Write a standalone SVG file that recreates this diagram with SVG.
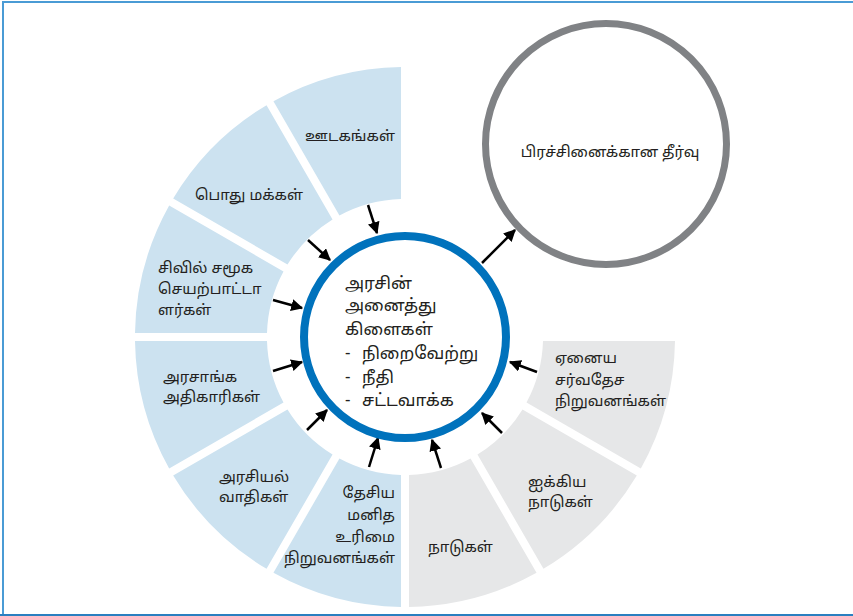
<svg xmlns="http://www.w3.org/2000/svg" width="853" height="616" viewBox="0 0 853 616">
<style>
.blue{fill:#cce2f0}
.grey{fill:#e6e7e8}
.t{font-family:"Noto Sans Tamil","Noto Serif Tamil","Latha","Nirmala UI","Noto Sans",sans-serif;font-size:15px;fill:#231f20}
.tc{font-family:"Noto Sans Tamil","Noto Serif Tamil","Latha","Nirmala UI","Noto Sans",sans-serif;font-size:17px;fill:#231f20}
.arr{stroke:#000;stroke-width:2.5;fill:none;marker-end:url(#ah)}
</style>
<defs>
<marker id="ah" viewBox="0 0 10 10" refX="9" refY="5" markerUnits="userSpaceOnUse" markerWidth="12" markerHeight="12" orient="auto">
<path d="M0,0 L10,5 L0,10 Z" fill="#000"/>
</marker>
</defs>
<rect width="853" height="616" fill="#fff"/>
<g id="frame" fill="none" stroke="#4a9bd5" stroke-width="2">
<path d="M3,616 V2 H853"/>
<path d="M0,615 H853" stroke="#2a7fc0"/>
</g>
<g id="n-media">
<path class="blue" d="M401,67 A270,270 0 0 0 273.46,101.17 L339.46,215.49 A138,138 0 0 1 401,199 Z"/>
<text class="t" x="305" y="141">ஊடகங்கள்</text>
</g>
<g id="n-public">
<path class="blue" d="M266.54,105.17 A270,270 0 0 0 173.17,198.54 L287.49,264.54 A138,138 0 0 1 332.54,219.49 Z"/>
<text class="t" x="195" y="200">பொது மக்கள்</text>
</g>
<g id="n-civil">
<path class="blue" d="M169.17,205.46 A270,270 0 0 0 135,333 L267,333 A138,138 0 0 1 283.49,271.46 Z"/>
<text class="t" x="158" y="273">சிவில் சமூக</text>
<text class="t" x="158" y="294">செயற்பாட்டா</text>
<text class="t" x="158" y="315">ளர்கள்</text>
</g>
<g id="n-officials">
<path class="blue" d="M135,341 A270,270 0 0 0 169.17,468.54 L283.49,402.54 A138,138 0 0 1 267,341 Z"/>
<text class="t" x="163" y="382">அரசாங்க</text>
<text class="t" x="163" y="402">அதிகாரிகள்</text>
</g>
<g id="n-politicians">
<path class="blue" d="M173.17,475.46 A270,270 0 0 0 266.54,568.83 L332.54,454.51 A138,138 0 0 1 287.49,409.46 Z"/>
<text class="t" x="219" y="482">அரசியல்</text>
<text class="t" x="219" y="502">வாதிகள்</text>
</g>
<g id="n-nhri">
<path class="blue" d="M273.46,572.83 A270,270 0 0 0 401,607 L401,475 A138,138 0 0 1 339.46,458.51 Z"/>
<text class="t" x="395" y="498" text-anchor="end">தேசிய</text>
<text class="t" x="395" y="520" text-anchor="end">மனித</text>
<text class="t" x="395" y="542" text-anchor="end">உரிமை</text>
<text class="t" x="395" y="563" text-anchor="end">நிறுவனங்கள்</text>
</g>
<g id="n-countries">
<path class="grey" d="M409,607 A270,270 0 0 0 536.54,572.83 L470.54,458.51 A138,138 0 0 1 409,475 Z"/>
<text class="t" x="428" y="552">நாடுகள்</text>
</g>
<g id="n-un">
<path class="grey" d="M543.46,568.83 A270,270 0 0 0 636.83,475.46 L522.51,409.46 A138,138 0 0 1 477.46,454.51 Z"/>
<text class="t" x="528" y="487">ஐக்கிய</text>
<text class="t" x="528" y="507">நாடுகள்</text>
</g>
<g id="n-intl">
<path class="grey" d="M640.83,468.54 A270,270 0 0 0 675,341 L543,341 A138,138 0 0 1 526.51,402.54 Z"/>
<text class="t" x="555" y="363">ஏனைய</text>
<text class="t" x="555" y="385">சர்வதேச</text>
<text class="t" x="555" y="406">நிறுவனங்கள்</text>
</g>
<g id="connectors">
<line class="arr" x1="368" y1="205" x2="377" y2="233"/>
<line class="arr" x1="308" y1="240" x2="330" y2="260"/>
<line class="arr" x1="273" y1="300" x2="302" y2="308"/>
<line class="arr" x1="273" y1="371" x2="302" y2="362"/>
<line class="arr" x1="307" y1="430" x2="327" y2="410"/>
<line class="arr" x1="369" y1="467" x2="378" y2="438"/>
<line class="arr" x1="441" y1="468" x2="432" y2="440"/>
<line class="arr" x1="502" y1="433" x2="482" y2="413"/>
<line class="arr" x1="537" y1="372" x2="510" y2="362"/>
<line class="arr" x1="482" y1="263" x2="515" y2="230"/>
</g>
<g id="n-state">
<circle cx="405" cy="337" r="101" fill="#fff" stroke="#0072bc" stroke-width="8"/>
<text class="tc" x="345" y="289">அரசின்</text>
<text class="tc" x="345" y="311">அனைத்து</text>
<text class="tc" x="345" y="335">கிளைகள்</text>
<text class="tc" x="345" y="359">-</text>
<text class="tc" x="362" y="359">நிறைவேற்று</text>
<text class="tc" x="345" y="383">-</text>
<text class="tc" x="362" y="383">நீதி</text>
<text class="tc" x="345" y="406">-</text>
<text class="tc" x="362" y="406">சட்டவாக்க</text>
</g>
<g id="n-solution">
<circle cx="606" cy="144" r="120.5" fill="#fff" stroke="#808285" stroke-width="7"/>
<text class="t" x="610" y="157" text-anchor="middle">பிரச்சினைக்கான தீர்வு</text>
</g>
</svg>
